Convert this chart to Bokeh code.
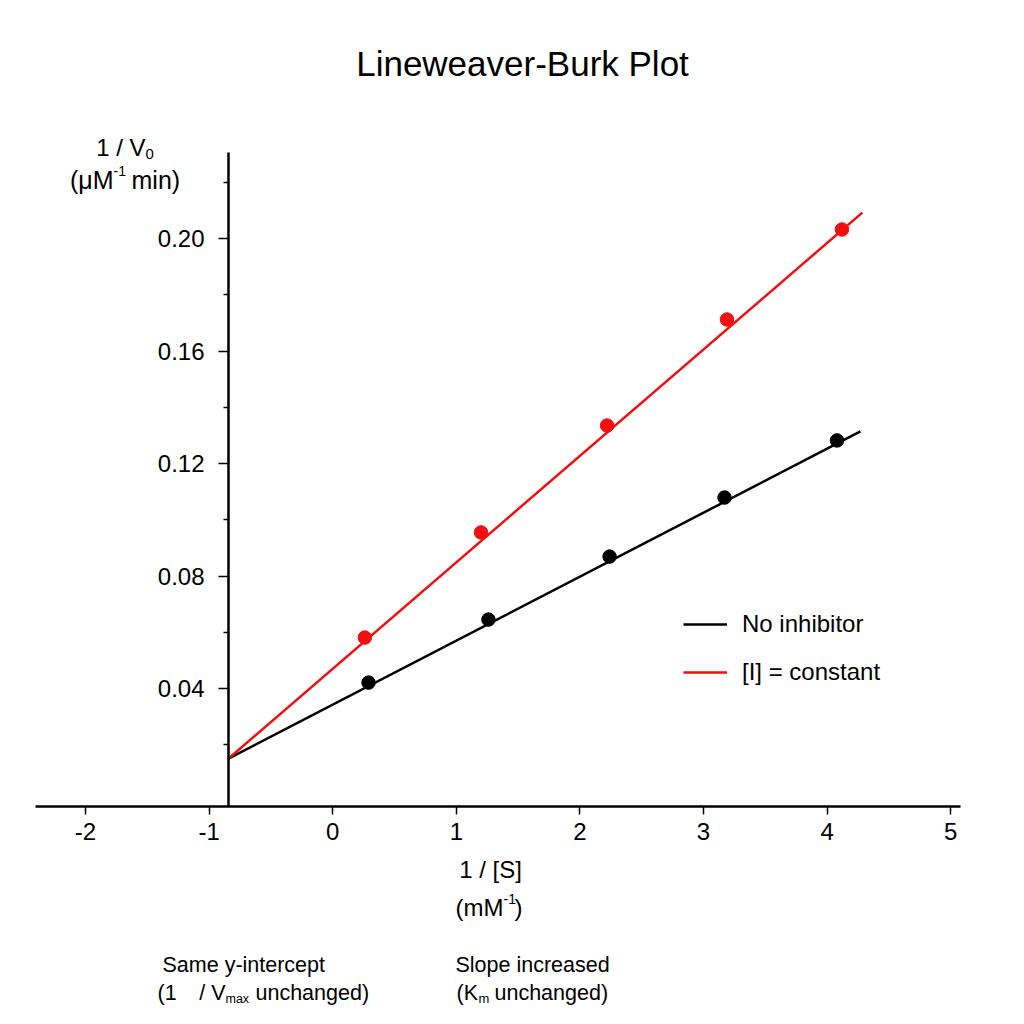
from bokeh.plotting import figure
from bokeh.models import (Range1d, LinearAxis, FixedTicker, Label, Legend,
                          LegendItem, PrintfTickFormatter)
from bokeh.embed import file_html
from bokeh.resources import INLINE

# ---- data ----
x_ticks = [-2, -1, 0, 1, 2, 3, 4, 5]
y_ticks = [0.04, 0.08, 0.12, 0.16, 0.20]
y_minor = [0.02, 0.06, 0.10, 0.14, 0.18, 0.22]

s_black = [0.29, 1.26, 2.24, 3.17, 4.08]
v_black = [0.0421, 0.0645, 0.0869, 0.1079, 0.1282]
s_red = [0.26, 1.20, 2.22, 3.19, 4.12]
v_red = [0.0581, 0.0955, 0.1335, 0.1712, 0.2032]

fit_x_black = [-0.843, 4.27]
fit_y_black = [0.0151, 0.1314]
fit_x_red = [-0.843, 4.285]
fit_y_red = [0.0151, 0.2092]

yaxis_at = -0.843

FONT = "Liberation Sans"
RED = "#f01010"

# ---- pixel mapping (frame covers the whole canvas) ----
W = H = 1024
X0PX, XPX_PER = 332.2, 123.6        # pixel of x=0, pixels per unit
Y0PX, YPX_PER = 800.5, 2812.5       # pixel of y=0, pixels per unit


def sx(px):
    return (px - X0PX) / XPX_PER


def sy(py):
    return (Y0PX - py) / YPX_PER


XR = (sx(0), sx(W))
YR = (sy(H), sy(0))

p = figure(width=W, height=H, output_backend="svg", toolbar_location=None,
           x_range=Range1d(*XR), y_range=Range1d(*YR),
           x_axis_location=None, y_axis_location=None,
           min_border=0, min_border_left=0, min_border_right=0,
           min_border_top=0, min_border_bottom=0)
p.title.visible = False
p.outline_line_color = None
p.grid.visible = False
p.background_fill_color = "white"
p.border_fill_color = "white"

xaxis = LinearAxis(ticker=FixedTicker(ticks=x_ticks),
                   formatter=PrintfTickFormatter(format="%d"),
                   fixed_location=sy(806), bounds=(sx(35), sx(960)))
xaxis.axis_line_width = 2.5
xaxis.axis_line_color = "black"
xaxis.major_tick_out = 8
xaxis.major_tick_in = 0
xaxis.major_tick_line_width = 1.5
xaxis.minor_tick_out = 0
xaxis.minor_tick_in = 0
xaxis.major_label_text_font = FONT
xaxis.major_label_text_font_size = "24px"
xaxis.major_label_text_color = "black"
xaxis.major_label_standoff = 8
p.add_layout(xaxis, "below")

yaxis = LinearAxis(ticker=FixedTicker(ticks=y_ticks, minor_ticks=y_minor),
                   formatter=PrintfTickFormatter(format="%.2f"),
                   fixed_location=yaxis_at, bounds=(sy(806), sy(152)))
yaxis.axis_line_width = 2.5
yaxis.axis_line_color = "black"
yaxis.major_tick_out = 10
yaxis.major_tick_in = 0
yaxis.major_tick_line_width = 1.5
yaxis.minor_tick_out = 5
yaxis.minor_tick_in = 0
yaxis.minor_tick_line_width = 1.5
yaxis.major_label_text_font = FONT
yaxis.major_label_text_font_size = "24px"
yaxis.major_label_text_color = "black"
yaxis.major_label_standoff = 14
p.add_layout(yaxis, "left")

# fitted lines
lb = p.line(fit_x_black, fit_y_black, line_color="black", line_width=2.5)
lr = p.line(fit_x_red, fit_y_red, line_color=RED, line_width=2.5)
# points
p.scatter(s_black, v_black, size=13.5, color="black")
p.scatter(s_red, v_red, size=13.5, color=RED)

legend = Legend(items=[LegendItem(label="No inhibitor", renderers=[lb]),
                       LegendItem(label="[I] = constant", renderers=[lr])],
                location=(683, H - 686))
legend.label_text_font = FONT
legend.label_text_font_size = "24px"
legend.label_text_color = "black"
legend.glyph_width = 44
legend.glyph_height = 26
legend.label_height = 26
legend.label_standoff = 15
legend.spacing = 20
legend.padding = 0
legend.margin = 0
legend.border_line_alpha = 0
legend.background_fill_alpha = 0
p.add_layout(legend, "center")


def lab(text, px, py, size, align="left", baseline="middle"):
    p.add_layout(Label(x=sx(px), y=sy(py), text=text, text_font=FONT,
                       text_font_size=f"{size}px", text_align=align,
                       text_baseline=baseline, text_color="black"))


# title
lab("Lineweaver-Burk Plot", 522, 63, 35, "center")

# y axis label
lab("1 / V", 145, 147, 24, "right")
lab("0", 145, 153, 15, "left")
lab("(\u03bcM", 113, 179, 25, "right")
lab("-1", 113, 170, 14, "left")
lab("min)", 131, 179, 25, "left")

# x axis label
lab("1 / [S]", 490, 869, 24, "center")
lab("(mM", 503, 907, 24, "right")
lab("-1", 503, 898, 14, "left")
lab(")", 514, 907, 24, "left")

# bottom notes
lab("Same y-intercept", 162, 964, 21.5, "left")
lab("(1", 157, 992, 21.5, "left")
lab("/ V", 225, 992, 21.5, "right")
lab("max", 225, 998, 12.5, "left")
lab("unchanged)", 255, 992, 21.5, "left")

lab("Slope increased", 455, 964, 21.5, "left")
lab("(K", 456, 992, 21.5, "left")
lab("m", 478, 998, 13, "left")
lab("unchanged)", 494, 992, 21.5, "left")

open("out.html", "w").write(file_html(p, INLINE))
